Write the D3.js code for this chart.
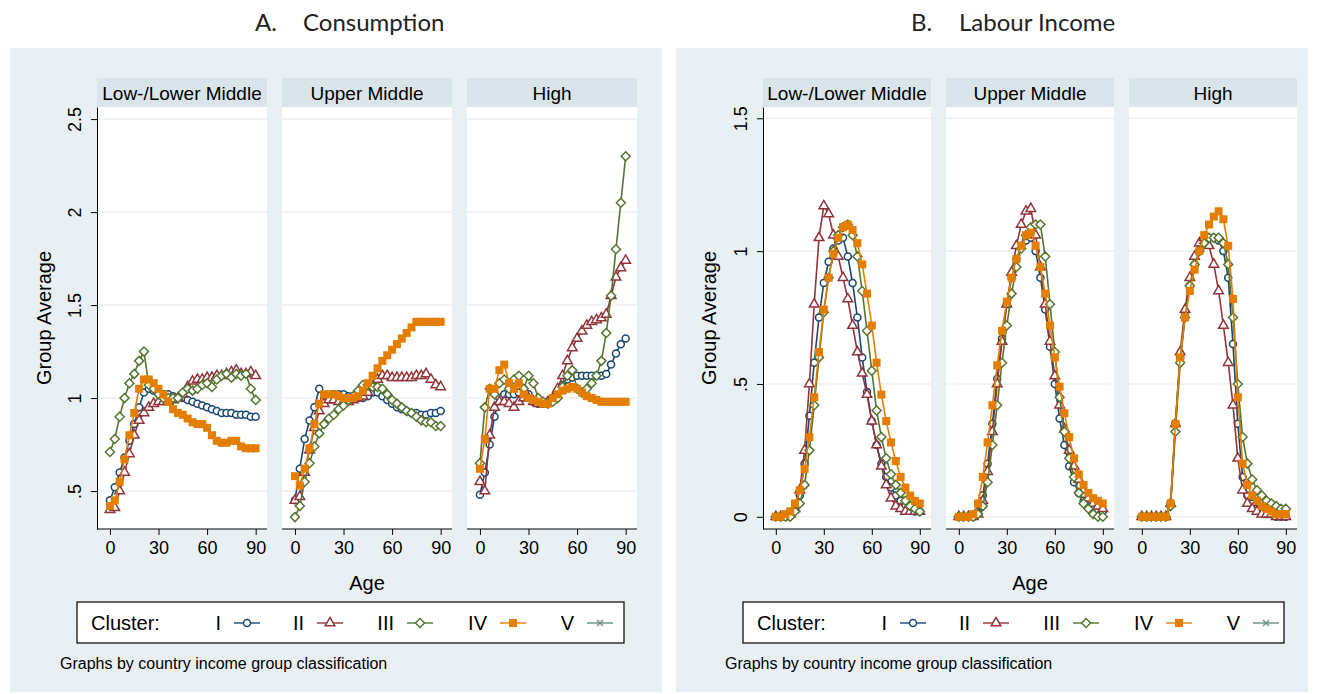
<!DOCTYPE html>
<html><head><meta charset="utf-8">
<script src="https://cdn.jsdelivr.net/npm/d3@7"></script>
<style>body{margin:0;background:#fff}svg{display:block}</style>
</head><body>
<script>
// ages every 3 years, 0..90
var ages = d3.range(0, 91, 3);
var panelNames = ["Low-/Lower Middle", "Upper Middle", "High"];
var clusterNames = ["I", "II", "III", "IV", "V"];
var consTicks = [0.5, 1, 1.5, 2, 2.5];
var consTickLabels = [".5", "1", "1.5", "2", "2.5"];
var incTicks = [0, 0.5, 1, 1.5];
var incTickLabels = ["0", ".5", "1", "1.5"];
var ageTicks = [0, 30, 60, 90];

// A. Consumption, by panel then cluster I..IV
var consLow = [
 [0.45,0.52,0.60,0.68,0.77,0.86,0.95,1.03,1.05,1.04,1.03,1.02,1.02,1.01,1.00,1.00,0.99,0.98,0.97,0.96,0.95,0.94,0.93,0.92,0.92,0.92,0.91,0.91,0.91,0.90,0.90],
 [0.40,0.41,0.50,0.60,0.70,0.80,0.88,0.92,0.95,0.97,0.98,0.98,0.98,0.99,1.00,1.02,1.06,1.09,1.10,1.10,1.11,1.11,1.12,1.12,1.13,1.14,1.15,1.13,1.13,1.14,1.12],
 [0.71,0.78,0.90,1.00,1.08,1.13,1.20,1.25,1.07,1.05,1.02,1.00,1.00,1.00,1.00,1.03,1.05,1.04,1.05,1.07,1.08,1.06,1.10,1.12,1.13,1.11,1.13,1.12,1.13,1.05,0.99],
 [0.42,0.45,0.55,0.67,0.80,0.92,1.05,1.10,1.10,1.08,1.05,1.02,0.98,0.94,0.92,0.91,0.89,0.87,0.86,0.86,0.84,0.80,0.77,0.76,0.76,0.77,0.77,0.74,0.73,0.73,0.73]
];
var consUpper = [
 [0.45,0.62,0.78,0.88,0.95,1.05,1.00,1.01,1.02,1.02,1.02,1.01,1.01,1.00,1.00,1.01,1.03,1.03,1.01,0.99,0.97,0.95,0.94,0.93,0.92,0.92,0.91,0.91,0.92,0.92,0.93],
 [0.45,0.47,0.60,0.72,0.84,0.93,0.97,0.99,0.99,0.98,0.98,0.98,0.99,1.00,1.01,1.03,1.06,1.10,1.12,1.12,1.11,1.11,1.11,1.11,1.11,1.12,1.12,1.13,1.10,1.07,1.06],
 [0.36,0.42,0.55,0.65,0.74,0.81,0.86,0.89,0.91,0.94,0.96,0.99,1.01,1.04,1.07,1.07,1.06,1.06,1.05,1.02,0.99,0.97,0.95,0.93,0.92,0.90,0.88,0.87,0.87,0.85,0.85],
 [0.58,0.53,0.62,0.73,0.86,0.97,1.02,1.02,1.02,1.01,1.00,1.00,1.00,1.01,1.04,1.08,1.12,1.16,1.20,1.23,1.26,1.29,1.32,1.35,1.38,1.41,1.41,1.41,1.41,1.41,1.41]
];
var consHigh = [
 [0.48,0.60,0.75,0.90,1.00,1.02,1.02,1.02,1.03,1.05,1.02,0.98,0.97,0.97,0.98,1.00,1.04,1.07,1.10,1.11,1.12,1.12,1.12,1.12,1.12,1.12,1.13,1.18,1.24,1.29,1.32],
 [0.55,0.50,0.80,0.95,0.98,0.98,0.97,0.95,0.98,1.00,1.00,0.98,0.97,0.97,0.98,1.00,1.05,1.12,1.20,1.27,1.32,1.36,1.39,1.41,1.42,1.43,1.45,1.55,1.65,1.70,1.74],
 [0.65,0.95,1.05,1.02,1.08,1.10,1.05,1.10,1.12,1.05,1.12,1.08,1.00,0.98,0.97,0.98,1.00,1.06,1.12,1.15,1.05,1.03,1.05,1.08,1.12,1.20,1.35,1.55,1.80,2.05,2.30],
 [0.62,0.78,1.05,1.05,1.15,1.18,1.08,1.05,1.08,1.02,1.00,0.99,0.98,0.97,0.97,1.00,1.02,1.04,1.05,1.06,1.05,1.03,1.01,1.00,0.99,0.98,0.98,0.98,0.98,0.98,0.98]
];
// B. Labour income
var incLow = [
 [0,0,0,0.01,0.03,0.08,0.20,0.38,0.58,0.75,0.88,0.96,1.01,1.04,1.05,0.98,0.88,0.75,0.60,0.47,0.36,0.27,0.20,0.15,0.11,0.08,0.06,0.04,0.03,0.02,0.02],
 [0,0,0,0.01,0.03,0.10,0.25,0.50,0.80,1.05,1.17,1.14,1.06,0.98,0.90,0.82,0.72,0.62,0.54,0.46,0.36,0.27,0.19,0.12,0.07,0.04,0.03,0.02,0.02,0.02,0.02],
 [0,0,0,0,0.02,0.05,0.12,0.25,0.42,0.60,0.77,0.90,1.00,1.06,1.09,1.10,1.06,0.98,0.85,0.70,0.55,0.40,0.30,0.22,0.16,0.12,0.09,0.06,0.04,0.03,0.02],
 [0,0,0.01,0.02,0.05,0.10,0.18,0.30,0.45,0.62,0.78,0.90,0.99,1.05,1.09,1.10,1.08,1.03,0.95,0.84,0.72,0.58,0.46,0.36,0.28,0.21,0.15,0.11,0.08,0.06,0.05]
];
var incUpper = [
 [0,0,0,0,0.02,0.08,0.20,0.35,0.52,0.67,0.80,0.90,0.97,1.02,1.04,1.05,1.00,0.90,0.78,0.64,0.50,0.37,0.27,0.19,0.13,0.09,0.06,0.04,0.03,0.02,0.02],
 [0,0,0,0,0.01,0.06,0.17,0.32,0.50,0.66,0.80,0.92,1.02,1.10,1.15,1.16,1.06,0.94,0.80,0.66,0.53,0.42,0.33,0.25,0.19,0.14,0.10,0.07,0.05,0.04,0.03],
 [0,0,0,0,0.01,0.04,0.13,0.27,0.42,0.58,0.72,0.84,0.94,1.01,1.06,1.09,1.10,1.10,0.98,0.80,0.62,0.45,0.32,0.22,0.15,0.09,0.05,0.03,0.01,0,0],
 [0,0,0,0.01,0.05,0.15,0.28,0.42,0.57,0.70,0.81,0.90,0.97,1.02,1.06,1.07,1.02,0.94,0.84,0.72,0.60,0.49,0.39,0.30,0.22,0.16,0.12,0.09,0.07,0.06,0.05]
];
var incHigh = [
 [0,0,0,0,0,0,0.05,0.35,0.60,0.76,0.87,0.95,1.00,1.03,1.05,1.05,1.04,1.00,0.90,0.65,0.35,0.15,0.08,0.05,0.03,0.02,0.01,0.01,0,0,0],
 [0,0,0,0,0,0,0.05,0.35,0.62,0.78,0.90,0.98,1.03,1.05,1.02,0.95,0.85,0.72,0.58,0.42,0.22,0.10,0.05,0.03,0.02,0.01,0.01,0.01,0,0,0],
 [0,0,0,0,0,0,0.04,0.32,0.58,0.75,0.87,0.95,1.00,1.03,1.05,1.05,1.05,1.03,0.95,0.75,0.50,0.30,0.20,0.14,0.10,0.08,0.06,0.05,0.04,0.03,0.03],
 [0,0,0,0,0,0,0.05,0.35,0.60,0.75,0.85,0.93,1.00,1.06,1.10,1.13,1.15,1.12,1.02,0.82,0.45,0.20,0.12,0.08,0.06,0.04,0.03,0.02,0.01,0.01,0.01]
];

var colors = ["#1a476f", "#90353b", "#55752f", "#e37e00", "#6e8e84"];
var shapes = ["circle", "triangle", "diamond", "square", "cross"];

var svg = d3.select("body").append("svg").attr("width", 1317).attr("height", 694);
var font = "'Liberation Sans', Arial, sans-serif";

function marker(g, type, x, y, col) {
  if (type == "circle") g.append("circle").attr("cx", x).attr("cy", y).attr("r", 3.5).attr("fill", "#fff").attr("stroke", col).attr("stroke-width", 1.5);
  else if (type == "triangle") g.append("path").attr("d", d3.symbol(d3.symbolTriangle, 40)()).attr("transform", "translate(" + x + "," + y + ")").attr("fill", "#fff").attr("stroke", col).attr("stroke-width", 1.5);
  else if (type == "diamond") g.append("path").attr("d", "M0,-4.5L4.5,0L0,4.5L-4.5,0Z").attr("transform", "translate(" + x + "," + y + ")").attr("fill", "#fff").attr("stroke", col).attr("stroke-width", 1.5);
  else if (type == "square") g.append("rect").attr("x", x - 4).attr("y", y - 4).attr("width", 8).attr("height", 8).attr("fill", col);
  else g.append("path").attr("d", "M-3,-3L3,3M-3,3L3,-3").attr("transform", "translate(" + x + "," + y + ")").attr("stroke", col).attr("stroke-width", 1.4);
}

function drawChart(c) {
  svg.append("rect").attr("x", c.bx).attr("y", 48).attr("width", c.bw).attr("height", 644).attr("fill", "#e9f0f3");
  var t = svg.append("text").attr("y", 31).attr("font-family", "Lato, sans-serif").attr("font-size", 24).attr("fill", "#222");
  t.append("tspan").attr("x", c.tx).text(c.letter);
  t.append("tspan").attr("x", c.tx + 48).text(c.title);

  var y = d3.scaleLinear().domain(c.ydom).range([529, 107]);
  var pw = c.pw;
  c.series.forEach(function (ser, p) {
    var x0 = c.px + p * c.step;
    var x = d3.scaleLinear().domain([-8, 97]).range([x0, x0 + pw]);
    var g = svg.append("g");
    g.append("rect").attr("x", x0).attr("y", 78).attr("width", pw).attr("height", 29).attr("fill", "#d9e5ea");
    g.append("text").attr("x", x0 + pw / 2).attr("y", 100).attr("text-anchor", "middle").attr("font-family", font).attr("font-size", 19).text(panelNames[p]);
    g.append("rect").attr("x", x0).attr("y", 107).attr("width", pw).attr("height", 422).attr("fill", "#fff");
    c.ticks.forEach(function (v) {
      g.append("line").attr("x1", x0).attr("x2", x0 + pw).attr("y1", y(v)).attr("y2", y(v)).attr("stroke", "#eaf2f3").attr("stroke-width", 1.5);
    });
    var line = d3.line().x(function (d, i) { return x(ages[i]); }).y(function (d) { return y(d); });
    ser.forEach(function (vals, k) {
      g.append("path").datum(vals).attr("d", line).attr("fill", "none").attr("stroke", colors[k]).attr("stroke-width", 1.6);
      vals.forEach(function (v, i) { marker(g, shapes[k], x(ages[i]), y(v), colors[k]); });
    });
    var ax = g.append("g").attr("transform", "translate(0,529)")
      .call(d3.axisBottom(x).tickValues(ageTicks).tickSize(6).tickPadding(6));
    ax.select(".domain").attr("stroke", "#000").attr("d", "M" + x0 + ",0H" + (x0 + pw));
    ax.selectAll("text").attr("font-family", font).attr("font-size", 18).attr("fill", "#000");
    if (p == 0) {
      var ay = g.append("g").attr("transform", "translate(" + x0 + ",0)")
        .call(d3.axisLeft(y).tickValues(c.ticks).tickFormat(function (d, i) { return c.tickLabels[i]; }).tickSize(6).tickSizeOuter(0));
      ay.selectAll(".tick text").attr("font-family", font).attr("font-size", 18).attr("fill", "#000")
        .attr("text-anchor", "middle").attr("dy", 0).attr("x", 0)
        .attr("transform", "translate(-16,0) rotate(-90)");
      ay.select(".domain").attr("stroke", "#000");
    }
  });
  var cx = c.px + (c.step * 2 + pw) / 2;
  svg.append("text").attr("x", cx).attr("y", 590).attr("text-anchor", "middle").attr("font-family", font).attr("font-size", 20).text("Age");
  svg.append("text").attr("transform", "translate(" + c.ylx + ",318) rotate(-90)").attr("text-anchor", "middle").attr("font-family", font).attr("font-size", 20).text("Group Average");
  // legend
  var lg = svg.append("g").attr("transform", "translate(" + c.lx + ",602)");
  lg.append("rect").attr("width", c.lw).attr("height", 41).attr("fill", "#fff").attr("stroke", "#000").attr("stroke-width", 1.2);
  lg.append("text").attr("x", 14).attr("y", 28).attr("font-family", font).attr("font-size", 20).text("Cluster:");
  var lineX = [157, 240, 330, 423, 510];
  clusterNames.forEach(function (n, k) {
    lg.append("text").attr("x", lineX[k] - 13).attr("y", 28).attr("text-anchor", "end").attr("font-family", font).attr("font-size", 20).text(n);
    lg.append("line").attr("x1", lineX[k]).attr("x2", lineX[k] + 26).attr("y1", 21).attr("y2", 21).attr("stroke", colors[k]).attr("stroke-width", 1.4);
    marker(lg, shapes[k], lineX[k] + 13, 21, colors[k]);
  });
  svg.append("text").attr("x", c.nx).attr("y", 669).attr("font-family", font).attr("font-size", 16).text("Graphs by country income group classification");
}

drawChart({ bx: 10, bw: 652, tx: 255, letter: "A.", title: "Consumption", ydom: [0.296, 2.565], ticks: consTicks, tickLabels: consTickLabels,
  px: 97, pw: 170, step: 185, series: [consLow, consUpper, consHigh], ylx: 51, lx: 77, lw: 547, nx: 60 });
drawChart({ bx: 676, bw: 632, tx: 911, letter: "B.", title: "Labour Income", ydom: [-0.046, 1.5425], ticks: incTicks, tickLabels: incTickLabels,
  px: 763, pw: 168, step: 183, series: [incLow, incUpper, incHigh], ylx: 716, lx: 743, lw: 541, nx: 725 });
</script>
</body></html>
